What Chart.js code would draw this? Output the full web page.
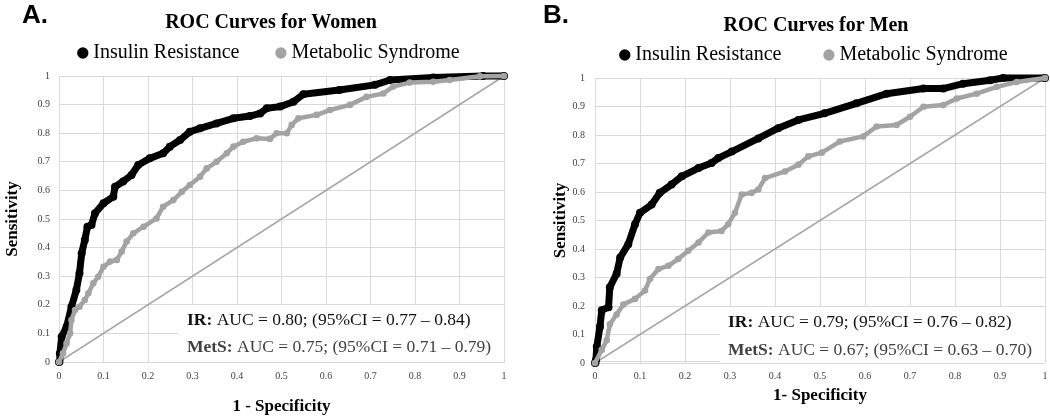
<!DOCTYPE html>
<html>
<head>
<meta charset="utf-8">
<script src="https://cdn.jsdelivr.net/npm/chart.js@4.4.1/dist/chart.umd.min.js"></script>
<style>
    html, body { margin: 0; padding: 0; background: #fff; }
    body { position: relative; width: 1050px; height: 420px; overflow: hidden; }
    canvas { position: absolute; top: 0; }
    #chartA { left: 0; }
    #chartB { left: 525px; }
    .panel-tag { position: absolute; top: 1px; font: bold 26px "Liberation Sans", Arial, sans-serif; line-height: 1; color: #000; }
</style>
</head>
<body>
<canvas id="chartA" width="542" height="420"></canvas>
<canvas id="chartB" width="582" height="420"></canvas>
<div class="panel-tag" style="left:22px">A.</div>
<div class="panel-tag" style="left:543px">B.</div>
<script>
// --- dados ---
const tickLabels = ['0', '0.1', '0.2', '0.3', '0.4', '0.5', '0.6', '0.7', '0.8', '0.9', '1'];
const seriesNames = ['Insulin Resistance', 'Metabolic Syndrome'];

// Mulheres - resistência à insulina
const womenIrFpr = [0, 0.002, 0.006, 0.017, 0.028, 0.039, 0.046, 0.051, 0.058, 0.064, 0.073, 0.081, 0.1, 0.122, 0.126, 0.144, 0.163, 0.178, 0.204, 0.234, 0.249, 0.272, 0.294, 0.317, 0.354, 0.392, 0.429, 0.452, 0.467, 0.497, 0.527, 0.549, 0.63, 0.71, 0.744, 0.841, 0.953, 1];
const womenIrTpr = [0, 0.03, 0.088, 0.123, 0.193, 0.252, 0.31, 0.38, 0.427, 0.473, 0.479, 0.52, 0.555, 0.578, 0.613, 0.631, 0.654, 0.689, 0.712, 0.73, 0.753, 0.776, 0.805, 0.817, 0.834, 0.852, 0.86, 0.869, 0.887, 0.893, 0.91, 0.936, 0.951, 0.969, 0.986, 0.995, 1, 1];

// Mulheres - síndrome metabólica
const womenMetsFpr = [0, 0.009, 0.017, 0.025, 0.028, 0.036, 0.046, 0.058, 0.066, 0.077, 0.088, 0.1, 0.115, 0.13, 0.141, 0.152, 0.167, 0.19, 0.219, 0.234, 0.257, 0.276, 0.294, 0.317, 0.332, 0.354, 0.377, 0.392, 0.414, 0.444, 0.474, 0.489, 0.512, 0.523, 0.538, 0.579, 0.609, 0.654, 0.691, 0.729, 0.751, 0.788, 0.841, 0.878, 0.946, 1];
const womenMetsTpr = [0, 0.03, 0.065, 0.1, 0.147, 0.182, 0.193, 0.217, 0.24, 0.275, 0.298, 0.333, 0.351, 0.357, 0.386, 0.421, 0.45, 0.473, 0.502, 0.543, 0.566, 0.595, 0.619, 0.648, 0.677, 0.7, 0.73, 0.753, 0.77, 0.782, 0.78, 0.8, 0.8, 0.829, 0.852, 0.864, 0.881, 0.899, 0.927, 0.939, 0.963, 0.977, 0.98, 0.986, 0.999, 1];

// Homens - resistência à insulina
const menIrFpr = [0, 0.002, 0.004, 0.011, 0.015, 0.03, 0.033, 0.048, 0.056, 0.074, 0.089, 0.1, 0.126, 0.144, 0.17, 0.193, 0.23, 0.259, 0.274, 0.304, 0.363, 0.407, 0.452, 0.51, 0.581, 0.648, 0.73, 0.774, 0.818, 0.878, 0.907, 1];
const menIrTpr = [0, 0.01, 0.057, 0.127, 0.185, 0.196, 0.266, 0.313, 0.37, 0.417, 0.487, 0.527, 0.556, 0.597, 0.626, 0.655, 0.684, 0.702, 0.719, 0.742, 0.788, 0.824, 0.853, 0.876, 0.911, 0.945, 0.963, 0.963, 0.98, 0.992, 1, 1];

// Homens - síndrome metabólica
const menMetsFpr = [0, 0.015, 0.026, 0.033, 0.048, 0.063, 0.089, 0.111, 0.122, 0.141, 0.163, 0.185, 0.207, 0.23, 0.252, 0.281, 0.296, 0.311, 0.326, 0.348, 0.363, 0.378, 0.422, 0.452, 0.474, 0.504, 0.544, 0.596, 0.626, 0.67, 0.7, 0.73, 0.774, 0.804, 0.848, 0.893, 0.937, 1];
const menMetsTpr = [0, 0.046, 0.08, 0.136, 0.17, 0.205, 0.225, 0.254, 0.295, 0.33, 0.341, 0.365, 0.394, 0.423, 0.458, 0.463, 0.487, 0.527, 0.591, 0.597, 0.609, 0.649, 0.672, 0.696, 0.725, 0.738, 0.777, 0.795, 0.83, 0.835, 0.864, 0.899, 0.905, 0.928, 0.945, 0.969, 0.986, 1];

// linha de referência (acaso)
const chanceFpr = [0, 1];
const chanceTpr = [0, 1];

// textos de AUC
const womenAuc = ['AUC = 0.80; (95%CI = 0.77 \u2013 0.84)', 'AUC = 0.75; (95%CI = 0.71 \u2013 0.79)'];
const menAuc = ['AUC = 0.79; (95%CI = 0.76 \u2013 0.82)', 'AUC = 0.67; (95%CI = 0.63 \u2013 0.70)'];
const aucTags = ['IR:', 'MetS:'];

const FONT = 'Liberation Serif';
const GRID = '#d9d9d9';
const GRAY = '#a3a3a3';

function toPoints(xs, ys) {
    return xs.map((x, i) => ({ x: x, y: ys[i] }));
}

// Caixa branca com os valores de AUC (desenhada por cima da grade)
const aucBox = {
    id: 'aucBox',
    beforeDatasetsDraw(chart, args, opts) {
        const { ctx, chartArea, scales } = chart;
        const left = Math.round(scales.x.getPixelForValue(opts.fromX));
        const top = Math.round(scales.y.getPixelForValue(0.2) - 0.5) + 1;
        const bottom = Math.round(chartArea.bottom - 0.5);
        const right = Math.round(chartArea.right - 0.5);
        ctx.save();
        ctx.fillStyle = '#fff';
        ctx.fillRect(left, top, right - left, bottom - top);
        ctx.textBaseline = 'middle';
        opts.texts.forEach((txt, i) => {
            const x = left + opts.dx;
            const y = chartArea.bottom - opts.dy[i];
            ctx.fillStyle = opts.colors[i];
            ctx.font = 'bold 17.5px "' + FONT + '"';
            ctx.fillText(aucTags[i], x, y);
            const w = ctx.measureText(aucTags[i]).width;
            ctx.font = '17.5px "' + FONT + '"';
            ctx.fillText(' ' + txt, x + w, y);
        });
        ctx.restore();
    }
};

function buildPanel(canvasId, p) {
    const ctx = document.getElementById(canvasId).getContext('2d');
    return new Chart(ctx, {
        type: 'scatter',
        data: {
            datasets: [{
                label: seriesNames[0],
                data: toPoints(p.irX, p.irY),
                showLine: true,
                borderColor: '#000',
                borderWidth: 7,
                borderJoinStyle: 'round',
                borderCapStyle: 'round',
                pointRadius: 4,
                pointBackgroundColor: '#000',
                pointBorderColor: '#000',
                pointBorderWidth: 0,
                tension: 0,
                order: 2,
                clip: 8
            }, {
                label: seriesNames[1],
                data: toPoints(p.metsX, p.metsY),
                showLine: true,
                borderColor: GRAY,
                borderWidth: 4.5,
                borderJoinStyle: 'round',
                borderCapStyle: 'round',
                pointRadius: 3.3,
                pointBackgroundColor: GRAY,
                pointBorderColor: GRAY,
                pointBorderWidth: 0,
                tension: 0,
                order: 1,
                clip: 8
            }, {
                label: 'chance',
                data: toPoints(chanceFpr, chanceTpr),
                showLine: true,
                borderColor: GRAY,
                borderWidth: 1.5,
                pointRadius: 0,
                order: 3
            }]
        },
        options: {
            responsive: false,
            animation: false,
            events: [],
            layout: { padding: 0 },
            scales: {
                x: {
                    type: 'linear', position: 'bottom', min: 0, max: 1,
                    ticks: { stepSize: 0.1, autoSkip: false, maxRotation: 0, padding: p.xTickPad, color: '#404040',
                        font: { family: FONT, size: 10 }, callback: (v, i) => tickLabels[i] },
                    grid: { color: GRID, drawTicks: false },
                    border: { color: GRID },
                    title: { display: true, text: p.xTitle, color: '#000',
                        font: { family: FONT, size: 17, weight: 'bold' }, padding: { top: 0, bottom: p.xTitlePad } },
                    afterFit: s => { s.height = p.xAxisHeight; }
                },
                y: {
                    type: 'linear', position: 'left', min: 0, max: 1,
                    ticks: { stepSize: 0.1, autoSkip: false, padding: p.yTickPad, color: '#404040',
                        font: { family: FONT, size: 10 }, callback: (v, i) => tickLabels[i] },
                    grid: { color: GRID, drawTicks: false },
                    border: { color: GRID },
                    title: { display: true, text: 'Sensitivity', color: '#000',
                        font: { family: FONT, size: 17, weight: 'bold' }, padding: { top: p.yTitlePad, bottom: 0 } },
                    afterFit: s => { s.width = p.yAxisWidth; }
                },
                // espaçadores: ajustam a posição da legenda e da área do gráfico
                padTop: {
                    type: 'linear', position: 'top', axis: 'x', display: true,
                    ticks: { display: false }, grid: { display: false }, border: { display: false },
                    afterFit: s => { s.height = p.topGap; }
                },
                padRight: {
                    type: 'linear', position: 'right', axis: 'y', display: true,
                    ticks: { display: false }, grid: { display: false }, border: { display: false },
                    afterFit: s => { s.width = p.rightGap; }
                }
            },
            plugins: {
                tooltip: { enabled: false },
                title: {
                    display: true, text: p.title, color: '#000',
                    font: { family: FONT, size: 20, weight: 'bold' },
                    padding: { top: p.titleTop, bottom: p.titleBottom }
                },
                legend: {
                    display: true, position: 'top',
                    labels: {
                        usePointStyle: true, boxWidth: 1, boxHeight: 8, padding: p.legendPad,
                        color: '#000', font: { family: FONT, size: 20 },
                        filter: item => item.datasetIndex < 2,
                        sort: (a, b) => a.datasetIndex - b.datasetIndex
                    }
                },
                aucBox: {
                    fromX: p.boxFromX, dx: p.boxDx, dy: p.boxDy,
                    texts: p.auc, colors: ['#111', '#404040']
                }
            }
        },
        plugins: [aucBox]
    });
}

buildPanel('chartA', {
    title: 'ROC Curves for Women', xTitle: '1 - Specificity',
    irX: womenIrFpr, irY: womenIrTpr, metsX: womenMetsFpr, metsY: womenMetsTpr,
    auc: womenAuc,
    titleTop: 11, titleBottom: -33, legendPad: 41, topGap: 3, rightGap: 38,
    yAxisWidth: 59, yTitlePad: 2, yTickPad: 9,
    xAxisHeight: 58, xTickPad: 8, xTitlePad: 3,
    boxFromX: 0.267, boxDx: 9, boxDy: [42, 15]
});

buildPanel('chartB', {
    title: 'ROC Curves for Men', xTitle: '1- Specificity',
    irX: menIrFpr, irY: menIrTpr, metsX: menMetsFpr, metsY: menMetsTpr,
    auc: menAuc,
    titleTop: 14, titleBottom: -40, legendPad: 47, topGap: 1, rightGap: 62,
    yAxisWidth: 70, yTitlePad: 25, yTickPad: 10,
    xAxisHeight: 57, xTickPad: 9, xTitlePad: 12,
    boxFromX: 0.278, boxDx: 8, boxDy: [41, 13]
});
</script>
</body>
</html>
